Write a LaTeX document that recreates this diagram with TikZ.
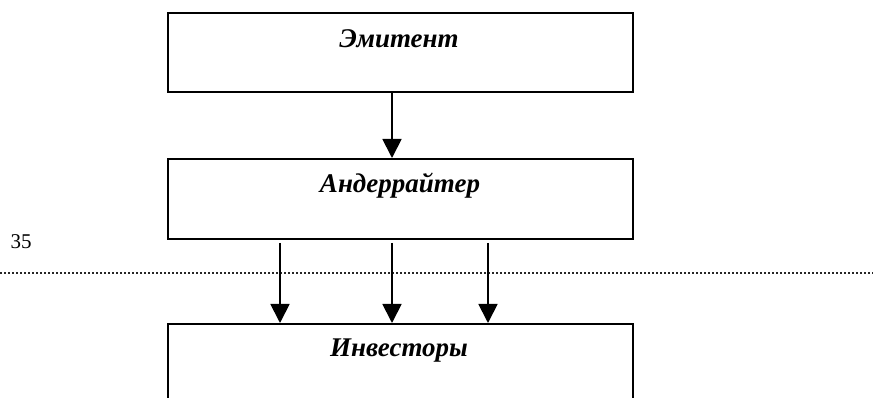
\documentclass[tikz,border=0pt]{standalone}
\usepackage{fontspec}
\setmainfont{Liberation Serif}
\usetikzlibrary{arrows.meta}
\begin{document}
\begin{tikzpicture}[x=1pt,y=-1pt,
  box/.style={draw,line width=2pt,minimum width=465pt,inner sep=0pt,anchor=north west},
  lbl/.style={font=\fontsize{27}{31}\selectfont\bfseries\itshape,inner sep=0pt},
  arr/.style={-{Triangle[width=19pt,length=19pt]},line width=1.8pt},
  rule/.style={line width=1.3pt,dash pattern=on 1.6pt off 2.4pt,black!85}]
\clip (0,0) rectangle (876,398);
\node[box,minimum height=79pt] (em) at (167,12) {};
\node[box,minimum height=80pt] (und) at (167,158) {};
\node[box,minimum height=140pt] (inv) at (167,323) {};
\node[lbl] (tem) at (399,39) {Эмитент};
\node[lbl] (tund) at (400,186) {Андеррайтер};
\node[lbl] (tinv) at (399,351) {Инвесторы};
\node[font=\fontsize{21}{24}\selectfont,inner sep=0pt] (num) at (21,242) {35};
\coordinate (rl) at (0,273);
\coordinate (rr) at (873,273);
\draw[rule] (rl) -- (rr);
\draw[arr] ([xshift=225pt]em.south west) -- ([xshift=225pt]und.north west);
\foreach \dx in {113,225,321}
  \draw[arr] ([xshift=\dx pt,yshift=-3pt]und.south west) -- ([xshift=\dx pt]inv.north west);
\end{tikzpicture}
\end{document}
